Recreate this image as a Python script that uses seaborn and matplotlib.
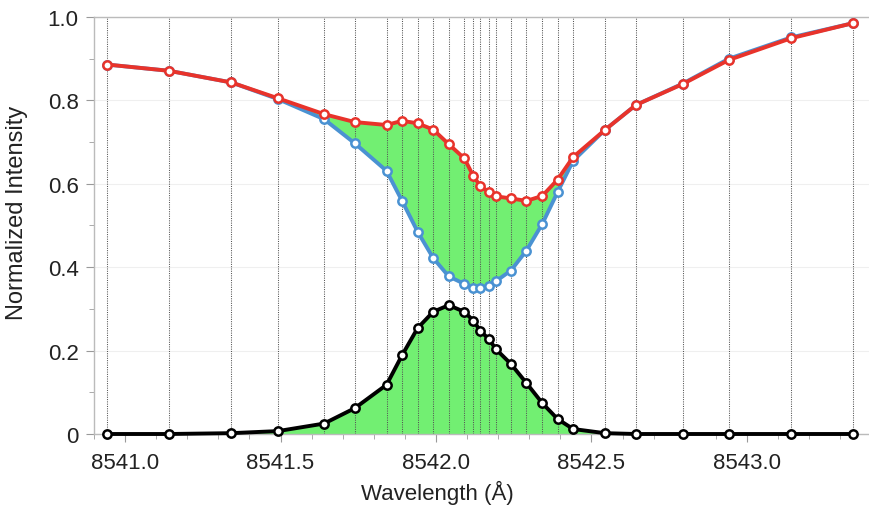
import matplotlib
matplotlib.use("Agg")
import matplotlib.pyplot as plt
from matplotlib.ticker import FixedLocator, MultipleLocator, FixedFormatter
import seaborn as sns
import pandas as pd

# ---- data ----
wavelength = [8540.942, 8541.141, 8541.342, 8541.492, 8541.640, 8541.739, 8541.841,
              8541.891, 8541.941, 8541.991, 8542.041, 8542.091, 8542.120, 8542.143,
              8542.171, 8542.192, 8542.241, 8542.291, 8542.342, 8542.391, 8542.441,
              8542.543, 8542.643, 8542.793, 8542.942, 8543.142, 8543.340]
red_profile = [0.886, 0.871, 0.843, 0.805, 0.767, 0.748, 0.741, 0.751, 0.745, 0.730,
               0.695, 0.661, 0.619, 0.594, 0.580, 0.570, 0.565, 0.559, 0.571, 0.610,
               0.664, 0.729, 0.789, 0.839, 0.897, 0.949, 0.985]
blue_profile = [0.886, 0.871, 0.843, 0.803, 0.755, 0.697, 0.631, 0.559, 0.485, 0.422,
                0.378, 0.360, 0.351, 0.351, 0.356, 0.366, 0.392, 0.440, 0.504, 0.580,
                0.655, 0.729, 0.789, 0.840, 0.900, 0.951, 0.985]
black_profile = [0.000, 0.000, 0.002, 0.007, 0.025, 0.062, 0.118, 0.189, 0.254, 0.293,
                 0.309, 0.293, 0.272, 0.247, 0.227, 0.204, 0.168, 0.122, 0.074, 0.036,
                 0.012, 0.002, 0.000, 0.000, 0.000, 0.000, 0.000]
x_ticks = [8541.0, 8541.5, 8542.0, 8542.5, 8543.0]
x_tick_labels = ["8541.0", "8541.5", "8542.0", "8542.5", "8543.0"]
y_ticks = [0.0, 0.2, 0.4, 0.6, 0.8, 1.0]
y_tick_labels = ["0", "0.2", "0.4", "0.6", "0.8", "1.0"]

df = pd.DataFrame({"wavelength": wavelength, "red": red_profile,
                   "blue": blue_profile, "black": black_profile})

sns.set_style("ticks")
plt.rcParams["font.family"] = ["Liberation Sans", "DejaVu Sans"]

GREEN = "#72ef72"
RED = "#e8332b"
BLUE = "#4a92d2"
BLACK = "#000000"

fig = plt.figure(figsize=(8.7, 5.06), dpi=100)
W, H = 870, 506
ax = fig.add_axes([94 / W, 1 - 435 / H, 1 - 94 / W, (435 - 18) / H])

ax.fill_between(df["wavelength"], df["blue"], df["red"], color=GREEN, lw=0, zorder=1)
ax.fill_between(df["wavelength"], 0, df["black"], color=GREEN, lw=0, zorder=1)
ax.vlines(df["wavelength"], 0, 1, colors="#555555", linestyles=(0, (1, 1.2)),
          linewidth=0.75, zorder=2)

common = dict(marker="o", markersize=6, markerfacecolor="white",
              markeredgewidth=1.8, linewidth=2.8, clip_on=False, legend=False)
sns.lineplot(data=df, x="wavelength", y="blue", ax=ax, color=BLUE,
             mec=BLUE, zorder=3, **common)
sns.lineplot(data=df, x="wavelength", y="red", ax=ax, color=RED,
             mec=RED, zorder=4, **common)
sns.lineplot(data=df, x="wavelength", y="black", ax=ax, color=BLACK,
             mec=BLACK, zorder=5, **common)

ax.set_xlim(8540.900, 8543.396)
ax.set_ylim(0, 1.0)
ax.xaxis.set_major_locator(FixedLocator(x_ticks))
ax.xaxis.set_major_formatter(FixedFormatter(x_tick_labels))
ax.xaxis.set_minor_locator(MultipleLocator(0.1))
ax.yaxis.set_major_locator(FixedLocator(y_ticks))
ax.yaxis.set_major_formatter(FixedFormatter(y_tick_labels))
ax.yaxis.set_minor_locator(MultipleLocator(0.1))

ax.grid(axis="y", which="major", color="#efefef", linewidth=0.8, zorder=0)
ax.set_axisbelow(True)

for side in ["left", "bottom", "top"]:
    ax.spines[side].set_color("#bbbbbb")
    ax.spines[side].set_linewidth(1.0)
ax.spines["right"].set_visible(False)

ax.tick_params(axis="both", which="major", direction="out", length=6, width=0.8,
               color="#999999", labelsize=16, labelcolor="#222222")
ax.tick_params(axis="x", which="major", pad=7)
ax.tick_params(axis="y", which="major", pad=5)
ax.tick_params(axis="both", which="minor", direction="out", length=3.5, width=0.7,
               color="#aaaaaa")

ax.set_xlabel("Wavelength (Å)", fontsize=16, color="#222222")
ax.set_ylabel("Normalized Intensity", fontsize=17, color="#222222")
# label anchors placed as in the reference (pixel -> axes fraction)
ax.xaxis.set_label_coords((437 - 94) / (W - 94), (435 - 481) / (435 - 18))
ax.yaxis.set_label_coords((28 - 94) / (W - 94), (435 - 213) / (435 - 18))

fig.savefig("out.png", dpi=100)
